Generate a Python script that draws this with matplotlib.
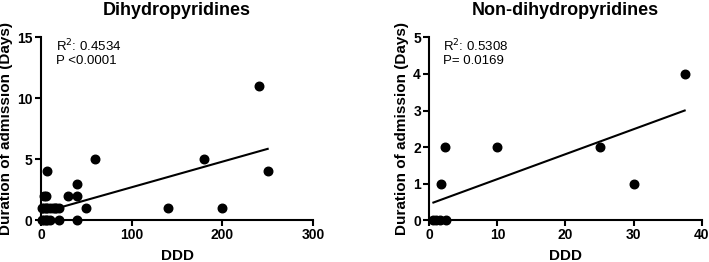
import numpy as np
import matplotlib.pyplot as plt

plt.rcParams['font.family'] = ['Liberation Sans', 'DejaVu Sans']

# Dihydropyridines
dhp_x = [1, 3, 5, 7, 10, 20, 1, 3, 5, 7, 10, 13, 15, 17, 20, 3, 5, 7,
         30, 40, 40, 40, 50, 60, 140, 180, 200, 240, 250]
dhp_y = [0, 0, 0, 0, 0, 0, 1, 1, 1, 1, 1, 1, 1, 1, 1, 2, 2, 4,
         2, 3, 2, 0, 1, 5, 1, 5, 1, 11, 4]
dhp_fit_x = [0.3, 250]
dhp_fit_y = [0.6, 5.85]

# Non-dihydropyridines
ndhp_x = [0.5, 1.0, 1.5, 2.5, 1.7, 2.3, 10, 25, 30, 37.5]
ndhp_y = [0, 0, 0, 0, 1, 2, 2, 2, 1, 4]
ndhp_fit_x = [0.6, 37.5]
ndhp_fit_y = [0.48, 3.0]

fig = plt.figure(figsize=(7.09, 2.62), dpi=100)
ax1 = fig.add_axes([0.0578, 0.160, 0.3837, 0.697])
ax2 = fig.add_axes([0.6055, 0.160, 0.3842, 0.697])

def style(ax, xlim, ylim, xt, yt, title):
    ax.set_xlim(*xlim)
    ax.set_ylim(*ylim)
    ax.set_xticks(xt)
    ax.set_yticks(yt)
    for s in ['top', 'right']:
        ax.spines[s].set_visible(False)
    for s in ['left', 'bottom']:
        ax.spines[s].set_linewidth(1.5)
    ax.tick_params(direction='out', length=4, width=1.5, labelsize=10, pad=2)
    for lab in ax.get_xticklabels() + ax.get_yticklabels():
        lab.set_fontweight('bold')
    ax.set_xlabel('DDD', fontsize=11, fontweight='bold', labelpad=5)
    ax.set_ylabel('Duration of admission (Days)', fontsize=11, fontweight='bold', labelpad=3)
    ax.set_title(title, fontsize=13, fontweight='bold', pad=16)

ax1.scatter(dhp_x, dhp_y, s=38, color='black', clip_on=False, zorder=3)
ax1.plot(dhp_fit_x, dhp_fit_y, color='black', lw=1.5)
style(ax1, (0, 300), (0, 15), [0, 100, 200, 300], [0, 5, 10, 15], 'Dihydropyridines')
ax1.text(0.055, 1.0, 'R$^2$: 0.4534\nP <0.0001', transform=ax1.transAxes,
         fontsize=9.5, va='top', ha='left', linespacing=1.1)

ax2.scatter(ndhp_x, ndhp_y, s=38, color='black', clip_on=False, zorder=3)
ax2.plot(ndhp_fit_x, ndhp_fit_y, color='black', lw=1.5)
style(ax2, (0, 40), (0, 5), [0, 10, 20, 30, 40], [0, 1, 2, 3, 4, 5], 'Non-dihydropyridines')
ax2.text(0.051, 1.0, 'R$^2$: 0.5308\nP= 0.0169', transform=ax2.transAxes,
         fontsize=9.5, va='top', ha='left', linespacing=1.1)

fig.savefig('out.png', dpi=100)
